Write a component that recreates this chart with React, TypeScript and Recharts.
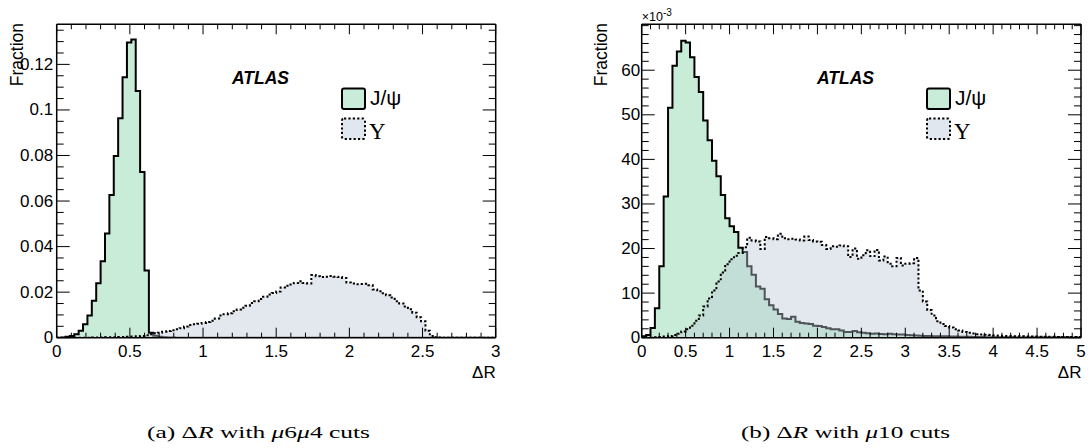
import React from 'react';
import { ComposedChart, Area, XAxis, YAxis } from 'recharts';

// (a) mu6mu4 cuts: 100 bins of 0.03 in dR, fraction per bin
const jpsiA = [
  0, 0.0001, 0.0004, 0.0008, 0.0015, 0.003, 0.0059, 0.0097, 0.0162, 0.0239,
  0.0336, 0.0458, 0.0626, 0.0798, 0.0963, 0.1143, 0.1296, 0.1309, 0.1083, 0.0727,
  0.0295, 0.0022, 0.0009, 0.0004, 0.0002, 0.0001, 0.0001, 0, 0, 0,
  0, 0, 0, 0, 0, 0, 0, 0, 0, 0,
  0, 0, 0, 0, 0, 0, 0, 0, 0, 0,
  0, 0, 0, 0, 0, 0, 0, 0, 0, 0,
  0, 0, 0, 0, 0, 0, 0, 0, 0, 0,
  0, 0, 0, 0, 0, 0, 0, 0, 0, 0,
  0, 0, 0, 0, 0, 0, 0, 0, 0, 0,
  0, 0, 0, 0, 0, 0, 0, 0, 0, 0,
];
const upsA = [
  0, 0, 0, 0, 0, 0, 0, 0, 0.0001, 0.0001,
  0.0001, 0.0002, 0.0002, 0.0002, 0.0003, 0.0003, 0.0004, 0.0005, 0.0006, 0.0008,
  0.0011, 0.0015, 0.0019, 0.0022, 0.0026, 0.0029, 0.0033, 0.0037, 0.0042, 0.0049,
  0.0056, 0.0059, 0.0061, 0.0065, 0.0069, 0.0074, 0.0084, 0.0097, 0.0103, 0.0107,
  0.0116, 0.0124, 0.0132, 0.014, 0.0152, 0.016, 0.017, 0.018, 0.019, 0.0196,
  0.0203, 0.022, 0.0228, 0.0234, 0.024, 0.0248, 0.024, 0.0238, 0.0275, 0.027,
  0.0266, 0.0268, 0.0271, 0.0268, 0.0266, 0.0262, 0.0242, 0.0238, 0.0235, 0.0236,
  0.0237, 0.023, 0.0212, 0.0204, 0.0195, 0.0186, 0.0176, 0.016, 0.015, 0.0137,
  0.0125, 0.011, 0.009, 0.0072, 0.003, 0.0008, 0.0002, 0.0001, 0, 0,
  0, 0, 0, 0, 0, 0, 0, 0, 0, 0,
];

// (b) mu10 cuts: 100 bins of 0.05 in dR, fraction per bin in units of 1e-3
const jpsiB = [
  0.3, 0.6, 2.2, 6.6, 16.0, 31.7, 51.6, 61.0, 64.2, 66.6,
  66.2, 62.9, 58.5, 55.1, 48.7, 44.3, 39.7, 36.2, 32.0, 26.8,
  25.0, 23.7, 20.2, 19.2, 16.0, 14.1, 11.5, 11.0, 8.6, 7.3,
  6.3, 5.3, 4.3, 4.2, 4.7, 3.6, 3.3, 3.2, 3.1, 2.7,
  2.6, 2.4, 2.1, 1.9, 1.9, 1.6, 1.3, 1.3, 1.5, 1.2,
  1.1, 1.0, 0.9, 0.95, 0.85, 0.8, 0.9, 0.8, 0.7, 0.7,
  0.6, 0.55, 0.5, 0.45, 0.4, 0.4, 0.35, 0.3, 0.3, 0.3,
  0.25, 0.25, 0.2, 0.2, 0.2, 0.15, 0.15, 0.15, 0.1, 0.1,
  0.1, 0.1, 0.1, 0.08, 0.08, 0.06, 0.06, 0.05, 0.05, 0.04,
  0.04, 0.03, 0.03, 0.03, 0.02, 0.02, 0.02, 0.02, 0.01, 0.01,
];
const upsB = [
  0, 0, 0.05, 0.1, 0.15, 0.25, 0.4, 0.6, 0.9, 1.4,
  1.9, 2.7, 3.8, 5.0, 7.0, 8.8, 10.6, 12.6, 14.6, 16.5,
  17.6, 18.4, 19.0, 20.3, 22.4, 21.8, 21.6, 19.9, 22.6, 22.3,
  22.1, 23.3, 22.3, 22.1, 22.2, 22.0, 21.8, 22.7, 21.9, 21.6,
  21.5, 20.8, 19.9, 20.5, 20.4, 20.7, 20.5, 18.1, 20.0, 17.7,
  18.5, 19.6, 18.3, 19.7, 17.3, 18.2, 16.6, 16.0, 17.9, 16.2,
  16.6, 16.7, 17.9, 10.6, 8.1, 6.2, 5.0, 3.7, 3.1, 2.6,
  2.3, 1.9, 1.6, 1.3, 1.1, 0.95, 0.8, 0.7, 0.65, 0.6,
  0.5, 0.45, 0.4, 0.38, 0.35, 0.33, 0.3, 0.28, 0.26, 0.25,
  0.23, 0.22, 0.2, 0.2, 0.18, 0.17, 0.16, 0.15, 0.15, 0.14,
];

const xLabelsA = [0, 0.5, 1, 1.5, 2, 2.5, 3];
const yLabelsA = [0, 0.02, 0.04, 0.06, 0.08, 0.1, 0.12];
const xLabelsB = [0, 0.5, 1, 1.5, 2, 2.5, 3, 3.5, 4, 4.5, 5];
const yLabelsB = [0, 10, 20, 30, 40, 50, 60];

const SANS = '"Liberation Sans", Arial, Helvetica, sans-serif';
const SERIF = '"Liberation Serif", "Times New Roman", Times, serif';
const JPSI_FILL = '#c9ecd8';
const UPS_FILL = '#bcc9d6';

const hist = (width: number, a: number[], b: number[]) => {
  const rows = a.map((v, i) => ({ x: +(i * width).toFixed(4), jpsi: v, ups: b[i] }));
  rows.push({ x: +(a.length * width).toFixed(4), jpsi: a[a.length - 1], ups: b[b.length - 1] });
  return rows;
};

const steps = (max: number, step: number) => {
  const out: number[] = [];
  for (let i = 0; i * step <= max + 1e-9; i++) out.push(+(i * step).toFixed(5));
  return out;
};

const isIn = (v: number, list: number[]) => list.some((m) => Math.abs(m - v) < 1e-7);
const fmt = (v: number) => String(+v.toFixed(4));

type PanelProps = {
  left: number;
  width: number;
  plotLeft: number;
  plotRight: number;
  data: any[];
  xMax: number;
  yMax: number;
  xMinor: number;
  yMinor: number;
  xLabels: number[];
  yLabels: number[];
  yLabelGap: number;
};

const TOP = 24.3;
const BOTTOM = 337.7;
const H = 448;

function Panel(p: PanelProps) {
  const xTicks = steps(p.xMax, p.xMinor);
  const yTicks = steps(p.yMax, p.yMinor);
  const xl = { stroke: '#000', strokeWidth: 1.5 };

  const bottomTick = (t: any) => {
    const major = isIn(t.payload.value, p.xLabels);
    return (
      <g>
        <line x1={t.x} x2={t.x} y1={t.y} y2={t.y - (major ? 10 : 5)} stroke="#000" />
        {major && (
          <text x={t.x} y={t.y + 19} textAnchor="middle" fontSize={17} fontFamily={SANS} fill="#000">
            {fmt(t.payload.value)}
          </text>
        )}
      </g>
    );
  };
  const topTick = (t: any) => {
    const major = isIn(t.payload.value, p.xLabels);
    return <line x1={t.x} x2={t.x} y1={t.y} y2={t.y + (major ? 10 : 5)} stroke="#000" />;
  };
  const leftTick = (t: any) => {
    const major = isIn(t.payload.value, p.yLabels);
    return (
      <g>
        <line x1={t.x} x2={t.x + (major ? 13 : 7)} y1={t.y} y2={t.y} stroke="#000" />
        {major && (
          <text x={t.x - p.yLabelGap} y={t.y + 5.5} textAnchor="end" fontSize={17} fontFamily={SANS} fill="#000">
            {fmt(t.payload.value)}
          </text>
        )}
      </g>
    );
  };
  const rightTick = (t: any) => {
    const major = isIn(t.payload.value, p.yLabels);
    return <line x1={t.x} x2={t.x - (major ? 13 : 7)} y1={t.y} y2={t.y} stroke="#000" />;
  };

  return (
    <div style={{ position: 'absolute', left: p.left, top: 0 }}>
      <ComposedChart width={p.width} height={H} data={p.data} margin={{ top: 0, right: 0, bottom: 0, left: 0 }}>
        <XAxis xAxisId="b" dataKey="x" type="number" domain={[0, p.xMax]} allowDataOverflow ticks={xTicks}
          interval={0} tickSize={0} tickMargin={0} tickLine={false} axisLine={xl} height={H - BOTTOM} tick={bottomTick} />
        <XAxis xAxisId="t" orientation="top" dataKey="x" type="number" domain={[0, p.xMax]} allowDataOverflow
          ticks={xTicks} interval={0} tickSize={0} tickMargin={0} tickLine={false} axisLine={xl} height={TOP} tick={topTick} />
        <YAxis yAxisId="l" type="number" domain={[0, p.yMax]} allowDataOverflow ticks={yTicks} interval={0}
          tickSize={0} tickMargin={0} tickLine={false} axisLine={xl} width={p.plotLeft} tick={leftTick} />
        <YAxis yAxisId="r" orientation="right" type="number" domain={[0, p.yMax]} allowDataOverflow ticks={yTicks}
          interval={0} tickSize={0} tickMargin={0} tickLine={false} axisLine={xl} width={p.width - p.plotRight} tick={rightTick} />
        <Area xAxisId="b" yAxisId="l" type="stepAfter" dataKey="jpsi" stroke="#000" strokeWidth={2}
          fill={JPSI_FILL} fillOpacity={1} dot={false} activeDot={false} isAnimationActive={false} />
        <Area xAxisId="t" yAxisId="r" type="stepAfter" dataKey="ups" stroke="#000" strokeWidth={2}
          strokeDasharray="2.2 2.2" fill={UPS_FILL} fillOpacity={0.42} dot={false} activeDot={false} isAnimationActive={false} />
      </ComposedChart>
    </div>
  );
}

function PanelText({ fracX, atlasX, legendX, xTitleRight }: { fracX: number; atlasX: number; legendX: number; xTitleRight: number }) {
  return (
    <g>
      <text transform={`translate(${fracX},23) rotate(-90)`} textAnchor="end" fontSize={17.5} fontFamily={SANS} fill="#000">
        Fraction
      </text>
      <text x={atlasX} y={84} fontSize={17.5} fontWeight="bold" fontStyle="italic" fontFamily={SANS} fill="#000">
        ATLAS
      </text>
      <rect x={legendX} y={88.5} width={23} height={20.5} rx={2} fill={JPSI_FILL} stroke="#000" strokeWidth={2} />
      <text x={legendX + 28} y={105} fontSize={21} fontFamily={SANS} fill="#000">J/ψ</text>
      <rect x={legendX} y={118.5} width={23} height={20.5} rx={2} fill="#e1e7ee" stroke="#000" strokeWidth={2}
        strokeDasharray="2.2 2.2" />
      <text x={legendX + 27} y={139} fontSize={23} fontFamily={SERIF} fill="#000">Υ</text>
      <text x={xTitleRight} y={378} textAnchor="end" fontSize={17} fontFamily={SANS} fill="#000">ΔR</text>
    </g>
  );
}

export default function App() {
  const dataA = hist(0.03, jpsiA, upsA);
  const dataB = hist(0.05, jpsiB, upsB);
  return (
    <div style={{ position: 'absolute', left: 0, top: 0, width: 1090, height: H, background: '#fff' }}>
      <Panel left={0} width={545} plotLeft={56.7} plotRight={495.7} data={dataA} xMax={3} yMax={0.1376}
        xMinor={0.1} yMinor={0.005} xLabels={xLabelsA} yLabels={yLabelsA} yLabelGap={3.5} />
      <Panel left={560} width={530} plotLeft={81.7} plotRight={521} data={dataB} xMax={5} yMax={70.3}
        xMinor={0.1} yMinor={2} xLabels={xLabelsB} yLabels={yLabelsB} yLabelGap={1.5} />
      <svg width={1090} height={H} style={{ position: 'absolute', left: 0, top: 0, pointerEvents: 'none' }}>
        <PanelText fracX={22.5} atlasX={232} legendX={342} xTitleRight={495.7} />
        <PanelText fracX={607} atlasX={817} legendX={927} xTitleRight={1081.5} />
        <text x={641.7} y={21} fontSize={12.5} fontFamily={SANS} fill="#000">
          ×10<tspan fontSize={10} dy={-5}>-3</tspan>
        </text>
        <text x={147} y={438} fontSize={17} fontFamily={SERIF} fill="#000" textLength={223} lengthAdjust="spacingAndGlyphs">
          (a) Δ<tspan fontStyle="italic">R</tspan> with <tspan fontStyle="italic">μ</tspan>6<tspan fontStyle="italic">μ</tspan>4 cuts
        </text>
        <text x={741} y={438} fontSize={17} fontFamily={SERIF} fill="#000" textLength={209} lengthAdjust="spacingAndGlyphs">
          (b) Δ<tspan fontStyle="italic">R</tspan> with <tspan fontStyle="italic">μ</tspan>10 cuts
        </text>
      </svg>
    </div>
  );
}
